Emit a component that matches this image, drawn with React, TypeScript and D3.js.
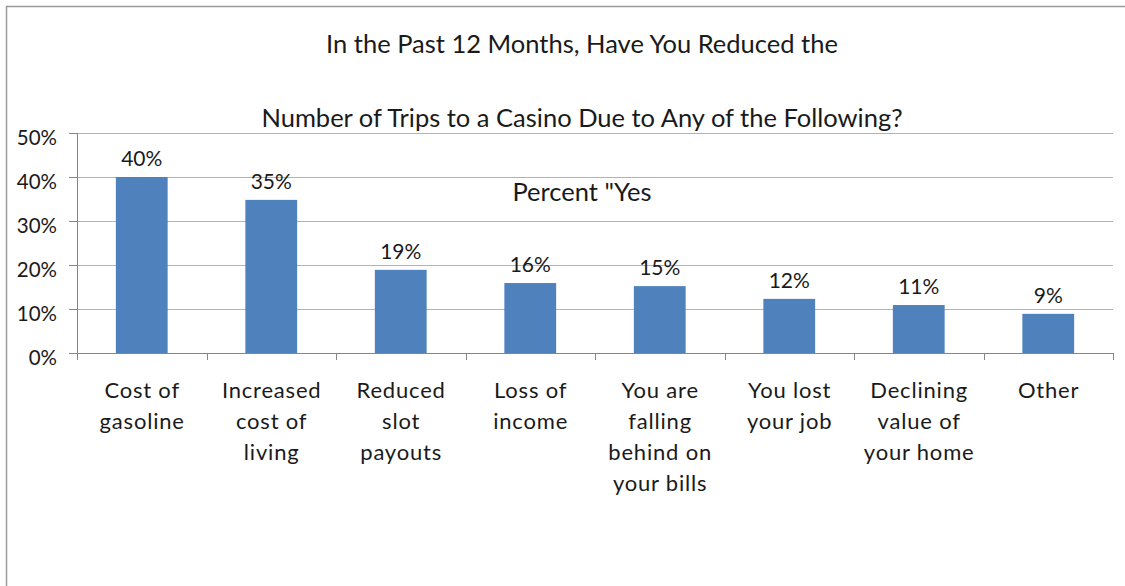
import React from "react";
import * as d3 from "d3";

const titleLines = [
  "In the Past 12 Months, Have You Reduced the",
  "Number of Trips to a Casino Due to Any of the Following?",
];
const subtitle = 'Percent "Yes';
const categories = [
  "Cost of gasoline",
  "Increased cost of living",
  "Reduced slot payouts",
  "Loss of income",
  "You are falling behind on your bills",
  "You lost your job",
  "Declining value of your home",
  "Other",
];
const categoryLines = [
  ["Cost of", "gasoline"],
  ["Increased", "cost of", "living"],
  ["Reduced", "slot", "payouts"],
  ["Loss of", "income"],
  ["You are", "falling", "behind on", "your bills"],
  ["You lost", "your job"],
  ["Declining", "value of", "your home"],
  ["Other"],
];
const values = [0.4, 0.348, 0.189, 0.159, 0.152, 0.123, 0.109, 0.089];
const yTicks = [0, 0.1, 0.2, 0.3, 0.4, 0.5];

const W = 1125;
const H = 586;
const FONT = "Lato, sans-serif";

export default function App() {
  const x = d3
    .scaleBand<string>()
    .domain(categories)
    .range([77, 1113])
    .paddingInner(0.6)
    .paddingOuter(0.3);
  const y = d3.scaleLinear().domain([0, 0.5]).range([353, 133]);
  const fmt = d3.format(".0%");
  const step = x.step();
  const x0 = 77;
  const boundaries = d3.range(categories.length + 1).map((i) => x0 + i * step);
  const catLS = 0.8;

  return (
    <svg
      width={W}
      height={H}
      style={{ position: "absolute", left: 0, top: 0, background: "#fff" }}
      fontFamily={FONT}
    >
      <rect x={0} y={0} width={W} height={H} fill="#fff" />
      <rect
        x={6.5}
        y={6.5}
        width={W + 20}
        height={H + 20}
        fill="none"
        stroke="#9a9a9a"
        strokeWidth={1.5}
      />
      {titleLines.map((t, i) => (
        <text
          key={t}
          x={582}
          y={53 + i * 74}
          textAnchor="middle"
          fontSize={25.5}
          fill="#1a1a1a"
        >
          {t}
        </text>
      ))}
      {/* gridlines */}
      {yTicks.slice(1).map((t) => (
        <line
          key={t}
          x1={x0}
          x2={1113}
          y1={Math.round(y(t)) + 0.5}
          y2={Math.round(y(t)) + 0.5}
          stroke="#b3b3b3"
          strokeWidth={1.2}
        />
      ))}
      <text x={582} y={201} textAnchor="middle" fontSize={25.5} fill="#1a1a1a">
        {subtitle}
      </text>
      {/* bars */}
      {categories.map((c, i) => (
        <rect
          key={c}
          x={x(c)}
          y={y(values[i])}
          width={x.bandwidth()}
          height={y(0) - y(values[i])}
          fill="#4f81bd"
        />
      ))}
      {/* data labels */}
      {categories.map((c, i) => (
        <text
          key={c}
          x={(x(c) as number) + x.bandwidth() / 2}
          y={y(values[i]) - 11}
          textAnchor="middle"
          fontSize={21}
          fill="#1a1a1a"
        >
          {fmt(Math.round(values[i] * 100) / 100)}
        </text>
      ))}
      {/* y axis */}
      <line x1={x0 + 0.5} x2={x0 + 0.5} y1={y(0.5)} y2={360} stroke="#868686" />
      {yTicks.map((t) => (
        <g key={t}>
          <line
            x1={69}
            x2={x0}
            y1={Math.round(y(t)) + 0.5}
            y2={Math.round(y(t)) + 0.5}
            stroke="#868686"
          />
          <text
            x={57}
            y={y(t) + 12}
            textAnchor="end"
            fontSize={20.5}
            fill="#1a1a1a"
          >
            {fmt(t)}
          </text>
        </g>
      ))}
      {/* x axis */}
      <line x1={x0} x2={1113} y1={353.5} y2={353.5} stroke="#868686" />
      {boundaries.map((b, i) => (
        <line
          key={i}
          x1={Math.round(b) + 0.5}
          x2={Math.round(b) + 0.5}
          y1={353}
          y2={360}
          stroke="#868686"
        />
      ))}
      {categories.map((c, i) => {
        const cx = (x(c) as number) + x.bandwidth() / 2 + catLS / 2;
        return (
          <text
            key={c}
            x={cx}
            textAnchor="middle"
            fontSize={22}
            letterSpacing={catLS}
            fill="#1a1a1a"
          >
            {categoryLines[i].map((l, j) => (
              <tspan key={j} x={cx} y={398 + j * 31}>
                {l}
              </tspan>
            ))}
          </text>
        );
      })}
    </svg>
  );
}
